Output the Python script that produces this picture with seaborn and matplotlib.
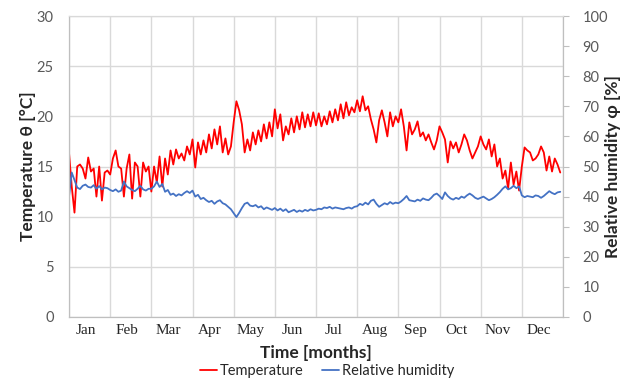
import numpy as np
import pandas as pd
import matplotlib
matplotlib.use("Agg")
import matplotlib.pyplot as plt
import seaborn as sns

# Month labels along the time axis
months = ["Jan", "Feb", "Mar", "Apr", "May", "Jun",
          "Jul", "Aug", "Sep", "Oct", "Nov", "Dec"]

# Indoor temperature [°C], sampled every two days (15 samples per month)
temperature = [
    16.4, 13.0, 10.4, 15.0, 15.2, 14.8, 13.8, 15.9, 14.5, 14.8, 12.0, 15.0, 11.6, 14.4, 14.6,   # Jan
    14.2, 15.8, 16.6, 15.0, 14.8, 12.0, 14.8, 16.2, 11.8, 15.4, 15.0, 12.0, 15.4, 14.5, 15.0,   # Feb
    12.5, 15.0, 13.4, 16.0, 13.0, 15.8, 14.2, 16.6, 15.2, 16.7, 15.8, 16.3, 15.6, 17.0, 16.2,   # Mar
    17.7, 14.9, 17.4, 16.2, 17.6, 16.4, 18.2, 16.8, 18.7, 17.2, 19.0, 16.4, 17.8, 16.2, 17.0,   # Apr
    19.4, 21.5, 20.6, 19.2, 16.4, 17.7, 16.6, 18.4, 17.2, 18.6, 17.5, 19.2, 17.8, 19.4, 18.0,   # May
    20.7, 18.8, 20.2, 17.6, 19.0, 18.2, 19.8, 18.4, 20.0, 18.7, 20.4, 18.9, 20.2, 19.0, 20.4,   # Jun
    19.1, 20.3, 19.0, 20.0, 19.2, 20.5, 19.4, 20.7, 19.6, 21.2, 19.8, 21.4, 20.1, 20.9, 20.4,   # Jul
    21.6, 20.5, 22.0, 20.6, 21.0, 19.7, 18.7, 17.4, 19.6, 20.6, 19.4, 18.0, 20.4, 19.0, 20.0,   # Aug
    19.4, 20.7, 19.0, 16.6, 19.4, 18.2, 18.7, 19.5, 18.0, 18.4, 17.6, 18.2, 17.4, 16.7, 17.6,   # Sep
    19.0, 18.4, 17.7, 15.4, 17.5, 16.8, 17.4, 16.4, 17.2, 18.2, 17.6, 16.6, 15.8, 16.4, 17.0,   # Oct
    18.0, 17.2, 16.7, 17.7, 16.0, 17.2, 15.0, 15.8, 13.8, 14.6, 12.8, 15.4, 13.2, 14.5, 12.6,   # Nov
    15.0, 16.9, 16.6, 16.4, 15.6, 15.8, 16.2, 17.0, 16.4, 14.6, 16.0, 14.5, 15.8, 15.2, 14.4,   # Dec
]

# Relative humidity [%], same sampling
humidity = [
    40.0, 48.0, 45.5, 43.0, 42.5, 43.6, 44.0, 43.2, 43.0, 43.8, 42.6, 43.5, 42.4, 43.0, 42.8,   # Jan
    42.2, 41.8, 42.4, 41.6, 42.0, 45.0, 43.4, 42.8, 42.2, 41.8, 42.6, 43.6, 42.4, 42.0, 42.6,   # Feb
    42.6, 43.4, 45.0, 43.2, 44.2, 41.6, 42.2, 40.6, 41.0, 40.2, 40.8, 40.4, 41.2, 41.8, 41.2,   # Mar
    42.0, 40.0, 40.6, 39.2, 39.6, 38.8, 38.2, 38.6, 37.6, 38.4, 38.8, 37.8, 37.4, 36.6, 35.8,   # Apr
    34.5, 33.2, 34.6, 36.2, 37.6, 38.0, 37.0, 36.8, 37.2, 36.4, 36.8, 35.8, 36.4, 36.0, 35.6,   # May
    36.2, 35.4, 36.0, 35.2, 35.8, 34.8, 35.2, 35.6, 34.9, 35.4, 35.0, 35.6, 35.2, 35.8, 35.4,   # Jun
    35.6, 36.0, 35.8, 36.4, 36.2, 36.6, 36.0, 36.4, 36.2, 36.0, 35.8, 36.2, 36.4, 36.0, 36.6,   # Jul
    36.8, 37.6, 37.2, 38.0, 37.4, 38.6, 39.0, 37.6, 36.6, 37.2, 37.8, 37.4, 38.2, 37.6, 38.0,   # Aug
    37.8, 38.4, 39.2, 40.2, 38.8, 38.6, 38.4, 39.0, 38.6, 39.4, 39.0, 38.8, 39.6, 40.6, 41.0,   # Sep
    40.2, 39.2, 41.4, 40.2, 39.4, 39.0, 39.6, 39.2, 40.0, 39.6, 40.4, 41.0, 40.4, 39.6, 39.2,   # Oct
    39.6, 40.0, 39.4, 38.8, 39.2, 39.8, 40.6, 41.5, 42.6, 43.4, 42.4, 42.8, 43.6, 42.8, 43.4,   # Nov
    40.4, 39.8, 40.2, 40.0, 39.8, 40.4, 40.2, 39.6, 40.2, 41.0, 41.8, 41.2, 40.8, 41.4, 41.6,   # Dec
]

temp_ticks = [0, 5, 10, 15, 20, 25, 30]
rh_ticks = [0, 10, 20, 30, 40, 50, 60, 70, 80, 90, 100]

# time in months, two-day sampling
t = np.arange(len(temperature)) / 15.0
df = pd.DataFrame({"t": t, "temperature": temperature, "humidity": humidity})

sns.set_theme(style="white")
plt.rcParams["font.family"] = ["Lato", "DejaVu Sans"]

RED = "#FF0000"
BLUE = "#4472C4"
GRID = "#D9D9D9"
TICK = "#595959"

fig = plt.figure(figsize=(6.32, 3.80), dpi=100)
ax = fig.add_axes([69 / 632, 1 - 317 / 380, 494 / 632, 301 / 380])
ax2 = ax.twinx()

sns.lineplot(data=df, x="t", y="temperature", ax=ax, color=RED, lw=1.3,
             label="Temperature", legend=False)
sns.lineplot(data=df, x="t", y="humidity", ax=ax2, color=BLUE, lw=1.3,
             label="Relative humidity", legend=False)

ax.set_xlim(0, 12)
ax.set_ylim(0, 30)
ax2.set_ylim(0, 100)

# grid: month boundaries and 5 °C steps
ax.set_xticks(np.arange(0, 13))
ax.set_xticklabels([])
ax.set_xticks(np.arange(12) + 0.42, labels=months, minor=True)
ax.tick_params(axis="x", which="both", length=0)
ax.tick_params(axis="x", which="minor", pad=5, labelsize=11, labelcolor="#262626")
for lab in ax.get_xticklabels(minor=True):
    lab.set_fontfamily(["Liberation Serif", "DejaVu Serif"])
ax.grid(True, which="major", color=GRID, lw=1.0)
ax.set_axisbelow(True)

ax.set_yticks(temp_ticks)
ax.tick_params(axis="y", length=0, pad=11, labelsize=10.5, labelcolor=TICK)
ax2.set_yticks(rh_ticks)
ax2.tick_params(axis="y", direction="out", length=4, width=0.8, color="#BFBFBF",
                pad=10, labelsize=10.5, labelcolor=TICK)

for a in (ax, ax2):
    for s in a.spines.values():
        s.set_color("#BFBFBF")
        s.set_linewidth(0.8)
ax.spines["top"].set_color(GRID)
ax2.spines["top"].set_color(GRID)

ax.set_xlabel("Time [months]", fontsize=12.5, fontweight="bold", labelpad=6)
ax.set_ylabel("Temperature θ [°C]", fontsize=12.5, fontweight="bold")
ax.yaxis.set_label_coords((36 - 69) / 494, 0.5)
ax2.set_ylabel("Relative humidity φ [%]", fontsize=12.5, fontweight="bold")
ax2.yaxis.set_label_coords((605 - 69) / 494, 0.5)

handles = ax.get_lines()[:1] + ax2.get_lines()[:1]
fig.legend(handles, ["Temperature", "Relative humidity"], loc="center",
           bbox_to_anchor=(327 / 632, 1 - 371 / 380), ncol=2, frameon=False,
           fontsize=10.5, handlelength=1.2, handletextpad=0.2, columnspacing=1.2)

fig.savefig("out.png", dpi=100)
